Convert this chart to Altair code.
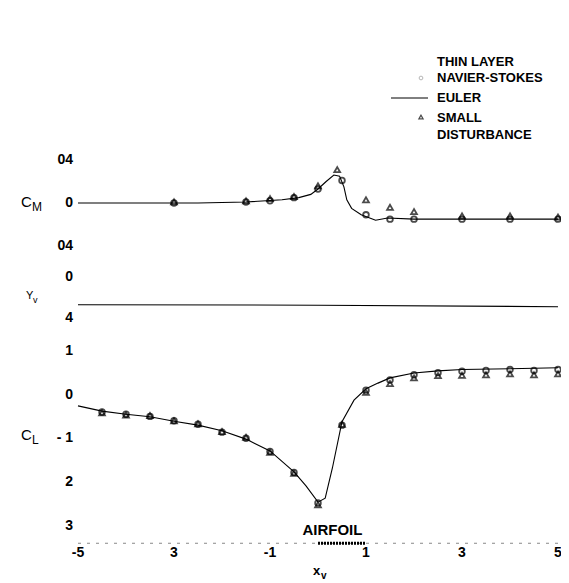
import altair as alt
import pandas as pd

# ---------------- data ----------------
# Pitching moment C_M
cm_line_x = [-5, -2.5, -1.5, -0.75, -0.4, -0.15, 0, 0.17, 0.33, 0.45, 0.54, 0.6, 0.7, 0.9, 1.2, 1.45, 2, 5]
cm_line_y = [0.0, 0.0, 0.001, 0.003, 0.005, 0.008, 0.013, 0.02, 0.026, 0.025, 0.015, 0.003, -0.005, -0.011, -0.016, -0.014, -0.015, -0.015]
cm_sd_x = [-3, -1.5, -1, -0.5, 0, 0.4, 1, 1.5, 2, 3, 4, 5]
cm_sd_y = [0.001, 0.002, 0.004, 0.006, 0.016, 0.031, 0.003, -0.004, -0.008, -0.012, -0.012, -0.013]
cm_ns_x = [-3, -1.5, -1, -0.5, 0, 0.5, 1, 1.5, 2, 3, 4, 5]
cm_ns_y = [0.0, 0.001, 0.002, 0.005, 0.013, 0.021, -0.011, -0.015, -0.015, -0.015, -0.015, -0.015]

# vortex position y_v
yv_x = [-5, 0, 5]
yv_y = [-0.27, -0.275, -0.29]

# Lift coefficient C_L
cl_line_x = [-5, -4.5, -4, -3.5, -3, -2.5, -2, -1.5, -1, -0.5, -0.25, 0, 0.15, 0.3, 0.5, 0.75, 1, 1.25, 1.5, 2, 2.5, 3, 4, 5]
cl_line_y = [-0.26, -0.38, -0.45, -0.51, -0.61, -0.70, -0.83, -1.02, -1.29, -1.77, -2.09, -2.46, -2.37, -1.68, -0.62, -0.13, 0.13, 0.26, 0.38, 0.49, 0.54, 0.57, 0.59, 0.61]
cl_pt_x = [-4.5, -4, -3.5, -3, -2.5, -2, -1.5, -1, -0.5, 0, 0.5, 1, 1.5, 2, 2.5, 3, 3.5, 4, 4.5, 5]
cl_ns_y = [-0.40, -0.45, -0.50, -0.60, -0.68, -0.86, -1.00, -1.30, -1.78, -2.48, -0.70, 0.10, 0.33, 0.45, 0.50, 0.53, 0.55, 0.57, 0.55, 0.57]
cl_sd_y = [-0.42, -0.47, -0.48, -0.60, -0.67, -0.85, -0.98, -1.32, -1.80, -2.52, -0.68, 0.05, 0.25, 0.38, 0.43, 0.44, 0.45, 0.47, 0.45, 0.47]

# tick labels (as printed in the scanned figure)
cm_ticks = [0.04, 0.0, -0.04]
cm_tick_labels = ["04", "0", "04"]
yv_ticks = [0.0, -0.4]
yv_tick_labels = ["0", "4"]
cl_ticks = [1, 0, -1, -2, -3]
cl_tick_labels = ["1", "0", "- 1", "2", "3"]
x_ticks = [-5, -3, -1, 1, 3, 5]
x_tick_labels = ["-5", "3", "-1", "1", "3", "5"]
airfoil_x = [0.0]
airfoil_x2 = [1.0]

FONT = "Liberation Sans"
W, H = 553, 575

xs = alt.Scale(domain=[-5, 5], range=[70, 550], nice=False, zero=False)
cm_s = alt.Scale(domain=[-0.04, 0.04], range=[238, 152], nice=False, zero=False)
yv_s = alt.Scale(domain=[-0.4, 0], range=[310, 269], nice=False, zero=False)
cl_s = alt.Scale(domain=[-3, 1], range=[517.75, 342.75], nice=False, zero=False)


def X(field="x"):
    return alt.X(f"{field}:Q", scale=xs, axis=None)


def Y(scale, field="y"):
    return alt.Y(f"{field}:Q", scale=scale, axis=None)


def panel(scale, lx, ly, sdx=None, sdy=None, nsx=None, nsy=None, tv=None, tl=None):
    layers = [
        alt.Chart(pd.DataFrame({"x": lx, "y": ly}))
        .mark_line(color="black", strokeWidth=1.1)
        .encode(x=X(), y=Y(scale))
    ]
    if nsx is not None:
        layers.append(
            alt.Chart(pd.DataFrame({"x": nsx, "y": nsy}))
            .mark_point(shape="circle", filled=False, color="black", size=32, strokeWidth=1.8)
            .encode(x=X(), y=Y(scale))
        )
    if sdx is not None:
        layers.append(
            alt.Chart(pd.DataFrame({"x": sdx, "y": sdy}))
            .mark_point(shape="triangle-up", filled=False, color="black", size=34, strokeWidth=1.8)
            .encode(x=X(), y=Y(scale))
        )
    layers.append(
        alt.Chart(pd.DataFrame({"y": tv, "t": tl}))
        .mark_text(align="right", baseline="middle", font=FONT, fontWeight="bold", fontSize=14, color="black")
        .encode(y=Y(scale), x=alt.value(65), text="t:N")
    )
    return alt.layer(*layers)


cm = panel(cm_s, cm_line_x, cm_line_y, cm_sd_x, cm_sd_y, cm_ns_x, cm_ns_y, cm_ticks, cm_tick_labels)
yv = panel(yv_s, yv_x, yv_y, tv=yv_ticks, tl=yv_tick_labels)
cl = panel(cl_s, cl_line_x, cl_line_y, cl_pt_x, cl_sd_y, cl_pt_x, cl_ns_y, cl_ticks, cl_tick_labels)

# x axis: baseline, airfoil, labels
base = (
    alt.Chart(pd.DataFrame({"x": [-5], "x2": [5], "y": [-3.4]}))
    .mark_rule(color="#888888", strokeWidth=1, strokeDash=[3, 6])
    .encode(x=X(), x2="x2:Q", y=Y(cl_s))
)
airfoil = (
    alt.Chart(pd.DataFrame({"x": airfoil_x, "x2": airfoil_x2, "y": [-3.4]}))
    .mark_rule(color="black", strokeWidth=3, strokeDash=[2, 1])
    .encode(x=X(), x2="x2:Q", y=Y(cl_s))
)
airfoil_txt = (
    alt.Chart(pd.DataFrame({"x": [0.3], "y": [-3.4], "t": ["AIRFOIL"]}))
    .mark_text(baseline="bottom", dy=-5, font=FONT, fontWeight="bold", fontSize=15, color="black")
    .encode(x=X(), y=Y(cl_s), text="t:N")
)
cl_full = alt.layer(cl, base, airfoil, airfoil_txt)

xlab = (
    alt.Chart(pd.DataFrame({"x": x_ticks, "t": x_tick_labels}))
    .mark_text(baseline="middle", font=FONT, fontWeight="bold", fontSize=14, color="black")
    .encode(x=X(), y=alt.value(545), text="t:N")
)


def txt(s, x, y, size=13, align="left", weight="bold", color="black"):
    return (
        alt.Chart(pd.DataFrame({"t": [s]}))
        .mark_text(align=align, baseline="middle", font=FONT, fontWeight=weight, fontSize=size, color=color)
        .encode(x=alt.value(x), y=alt.value(y), text="t:N")
    )


annotations = [
    # axis titles with subscripts
    txt("x", 305, 563, 13), txt("v", 313, 568, 10),
    txt("C", 13, 194, 15, weight="normal"), txt("M", 24, 199, 12, weight="normal"),
    txt("Y", 18, 288, 11, weight="normal"), txt("v", 25, 292, 9, weight="normal"),
    txt("C", 13, 427, 15, weight="normal"), txt("L", 24, 432, 12, weight="normal"),
    # legend
    txt("THIN LAYER", 429, 54), txt("NAVIER-STOKES", 429, 70),
    txt("EULER", 429, 90),
    txt("SMALL", 429, 110), txt("DISTURBANCE", 429, 127),
]

leg_ns = (
    alt.Chart(pd.DataFrame({"a": [0]}))
    .mark_point(shape="circle", filled=False, color="#999999", size=14, strokeWidth=1)
    .encode(x=alt.value(413), y=alt.value(70))
)
leg_sd = (
    alt.Chart(pd.DataFrame({"a": [0]}))
    .mark_point(shape="triangle-up", filled=False, color="black", size=18, strokeWidth=1.2)
    .encode(x=alt.value(413), y=alt.value(109))
)
leg_eu = (
    alt.Chart(pd.DataFrame({"a": [0]}))
    .mark_rule(color="black", strokeWidth=1)
    .encode(x=alt.value(383), x2=alt.value(420), y=alt.value(90))
)

chart = (
    alt.layer(cm, yv, cl_full, xlab, leg_ns, leg_sd, leg_eu, *annotations)
    .resolve_scale(y="independent")
    .properties(width=W, height=H, autosize="none", padding=0, background="white")
    .configure_view(stroke=None)
)

chart.save("out.html", embed_options={"renderer": "svg", "actions": False})
